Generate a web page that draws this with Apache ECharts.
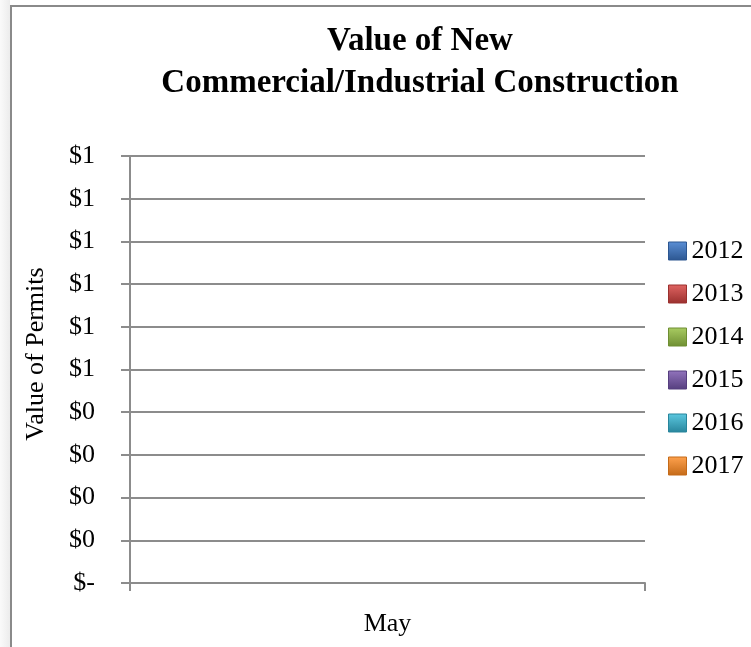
<!DOCTYPE html>
<html>
<head>
<meta charset="utf-8">
<script src="https://cdn.jsdelivr.net/npm/echarts@6/dist/echarts.min.js"></script>
<style>
  html, body { margin: 0; padding: 0; background: #fff; }
  #chart { width: 751px; height: 647px; }
</style>
</head>
<body>
<div id="chart"></div>
<script>
// values from the picture: every series is empty (zero) for May
const categories = ['May']
const years = ['2012', '2013', '2014', '2015', '2016', '2017']
const values2012 = [0]
const values2013 = [0]
const values2014 = [0]
const values2015 = [0]
const values2016 = [0]
const values2017 = [0]
const yMin = 0
const yMax = 1
const yStep = 0.1

const seriesValues = [values2012, values2013, values2014, values2015, values2016, values2017]
// light / dark pairs for the bevelled legend keys
const colorsLight = ['#5b8fd6', '#e06462', '#a9cc62', '#9274bd', '#5cc8e0', '#ffa24e']
const colorsDark = ['#2c5690', '#9a302e', '#6e8e32', '#553e7e', '#28859c', '#c46a18']
const fontFamily = '"Liberation Serif", "Times New Roman", serif'

function money(v) {
  if (Math.abs(v) < 1e-9) return '$-'
  return '$' + Math.round(v)
}

function keyFill(i) {
  return new echarts.graphic.LinearGradient(0, 0, 0, 1, [
    { offset: 0, color: colorsLight[i] },
    { offset: 1, color: colorsDark[i] }
  ])
}

const myChart = echarts.init(document.getElementById('chart'))
myChart.setOption({
  animation: false,
  textStyle: { fontFamily: fontFamily, color: '#000' },
  title: {
    text: 'Value of New\nCommercial/Industrial Construction',
    left: 415,
    top: 15,
    textAlign: 'center',
    textStyle: {
      fontFamily: fontFamily,
      fontSize: 33,
      fontWeight: 'bold',
      lineHeight: 42,
      color: '#000'
    }
  },
  legend: {
    orient: 'vertical',
    left: 668,
    top: 238,
    padding: 0,
    itemWidth: 18,
    itemHeight: 18,
    itemGap: 17,
    icon: 'rect',
    data: years.map((y, i) => ({
      name: y,
      itemStyle: { color: keyFill(i), borderColor: colorsDark[i], borderWidth: 1 }
    })),
    textStyle: { fontFamily: fontFamily, fontSize: 26, lineHeight: 26, color: '#000' }
  },
  grid: {
    left: 130,
    right: 106,
    top: 156,
    bottom: 64
  },
  xAxis: {
    type: 'category',
    data: categories,
    axisLine: { lineStyle: { color: '#8c8c8c', width: 2 } },
    axisTick: { show: true, length: 8, lineStyle: { color: '#8c8c8c', width: 2 } },
    axisLabel: { fontFamily: fontFamily, fontSize: 26, color: '#000', margin: 28 }
  },
  yAxis: {
    type: 'value',
    min: yMin,
    max: yMax,
    interval: yStep,
    name: 'Value of Permits',
    nameLocation: 'middle',
    nameGap: 81,
    nameTextStyle: { fontFamily: fontFamily, fontSize: 26, color: '#000', padding: [0, 0, 0, 31] },
    axisLine: { show: true, lineStyle: { color: '#8c8c8c', width: 2 } },
    axisTick: { show: true, length: 9, lineStyle: { color: '#8c8c8c', width: 2 } },
    splitLine: { show: true, lineStyle: { color: '#8c8c8c', width: 2 } },
    axisLabel: {
      fontFamily: fontFamily,
      fontSize: 26,
      color: '#000',
      margin: 35,
      formatter: money
    }
  },
  series: years.map((y, i) => ({
    name: y,
    type: 'bar',
    data: seriesValues[i],
    itemStyle: { color: keyFill(i), borderWidth: 0 }
  })),
  graphic: [
    {
      type: 'rect',
      shape: { x: 0, y: 0, width: 10, height: 647 },
      style: {
        fill: new echarts.graphic.LinearGradient(0, 0, 1, 0, [
          { offset: 0, color: '#fafafa' },
          { offset: 1, color: '#ececec' }
        ])
      },
      silent: true
    },
    {
      type: 'line',
      shape: { x1: 11, y1: 5, x2: 11, y2: 647 },
      style: { stroke: '#8a8a8a', lineWidth: 2 },
      silent: true
    },
    {
      type: 'line',
      shape: { x1: 10, y1: 6, x2: 751, y2: 6 },
      style: { stroke: '#8a8a8a', lineWidth: 2 },
      silent: true
    }
  ]
})
</script>
</body>
</html>
